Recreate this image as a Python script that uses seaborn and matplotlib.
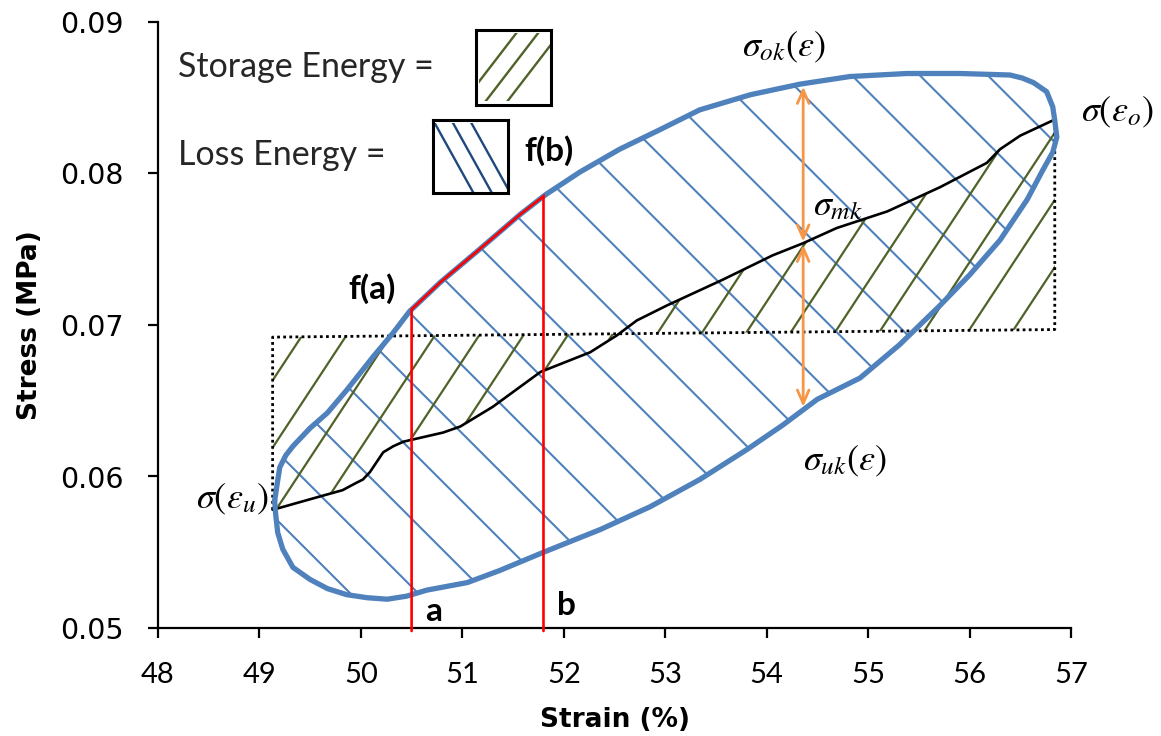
import numpy as np
import pandas as pd
import matplotlib
matplotlib.use("Agg")
import matplotlib.pyplot as plt
from matplotlib.path import Path
import seaborn as sns

# ---- data -------------------------------------------------------------
# loading branch (upper part of the hysteresis loop), strain in %, stress in MPa
upper_strain = [49.15, 49.17, 49.20, 49.26, 49.33, 49.50, 49.67, 49.86, 50.12, 50.32,
                50.48, 50.78, 51.17, 51.57, 51.82, 52.16, 52.55, 52.95, 53.34, 53.84,
                54.33, 54.82, 55.38, 55.91, 56.40, 56.52, 56.63, 56.76, 56.82, 56.84,
                56.86]
upper_stress = [0.0584, 0.0593, 0.0606, 0.0614, 0.0620, 0.0632, 0.0642, 0.0657, 0.0679, 0.0695,
                0.0709, 0.0728, 0.0750, 0.0773, 0.0786, 0.0801, 0.0816, 0.0829, 0.0842, 0.0852,
                0.0859, 0.0864, 0.0866, 0.0866, 0.0865, 0.0863, 0.0860, 0.0854, 0.0844, 0.0835,
                0.0824]
# unloading branch (lower part), running from right to left
lower_strain = [56.82, 56.72, 56.57, 56.30, 56.00, 55.71, 55.31, 54.92, 54.50, 54.16,
                53.81, 53.34, 52.85, 52.36, 51.80, 51.37, 51.05, 50.65, 50.45, 50.26,
                50.06, 49.86, 49.67, 49.50, 49.33, 49.23, 49.18, 49.16]
lower_stress = [0.0814, 0.0802, 0.0783, 0.0756, 0.0733, 0.0713, 0.0687, 0.0665, 0.0651, 0.0634,
                0.0618, 0.0598, 0.0580, 0.0565, 0.0550, 0.0538, 0.0530, 0.0525, 0.0521, 0.0519,
                0.0520, 0.0522, 0.0526, 0.0532, 0.0540, 0.0552, 0.0563, 0.0575]
# mean stress curve sigma_mk
mid_strain = [49.13, 49.50, 49.82, 49.96, 50.02, 50.09, 50.16, 50.22, 50.32, 50.42,
              50.81, 50.98, 51.30, 51.77, 52.26, 52.52, 52.72, 53.02, 53.57, 54.06,
              54.36, 54.69, 55.19, 55.71, 56.17, 56.30, 56.50, 56.82]
mid_stress = [0.0578, 0.0585, 0.0591, 0.0596, 0.0598, 0.0603, 0.0610, 0.0616, 0.0620, 0.0623,
              0.0629, 0.0633, 0.0646, 0.0669, 0.0682, 0.0693, 0.0703, 0.0713, 0.0730, 0.0746,
              0.0754, 0.0764, 0.0775, 0.0791, 0.0807, 0.0816, 0.0825, 0.0835]
# dotted boundary of the storage-energy area
bound_strain = [49.13, 49.13, 56.84, 56.84]
bound_stress = [0.0578, 0.0692, 0.0697, 0.0835]

strain_a, strain_b = 50.50, 51.80        # integration limits a, b
strain_arrow = 54.36                     # where sigma_ok / sigma_uk are marked

x_ticks = [48, 49, 50, 51, 52, 53, 54, 55, 56, 57]
y_ticks = [0.05, 0.06, 0.07, 0.08, 0.09]

# ---- style ------------------------------------------------------------
sns.set_theme(style="ticks")
plt.rcParams["font.family"] = ["Lato", "DejaVu Sans"]
plt.rcParams["mathtext.fontset"] = "stix"

LOOP_BLUE = "#4F81BD"
OLIVE = "#4F6228"
NAVY = "#1F497D"
ORANGE = "#F79646"

W, H = 1161, 736
fig = plt.figure(figsize=(W / 100, H / 100), dpi=100)
ax_rect = [158 / W, 1 - 628 / H, (1071 - 158) / W, (628 - 22) / H]
ax = fig.add_axes(ax_rect)
xlim, ylim = (48, 57), (0.05, 0.09)
ax.set_xlim(*xlim)
ax.set_ylim(*ylim)

# pixel scale of the data axes, used to give hatch lines a fixed on-screen angle
px_x = ax_rect[2] * W / (xlim[1] - xlim[0])
px_y = ax_rect[3] * H / (ylim[1] - ylim[0])


def hatch(axis, clip_xy, x_at_ref, y_ref, spacing, px_slope, color, lw, z,
          sx=px_x, sy=px_y, xr=(40.0, 65.0), ks=range(-30, 31)):
    """Parallel lines clipped to the polygon clip_xy (data coordinates)."""
    slope = px_slope * sx / sy
    clip = Path(np.asarray(clip_xy))
    xs = np.array(xr)
    for k in ks:
        c = x_at_ref + k * spacing
        ln, = axis.plot(xs, y_ref + slope * (xs - c), color=color, lw=lw,
                        zorder=z, solid_capstyle="butt")
        ln.set_clip_path(clip, axis.transData)


# closed loop and storage region polygons
loop_x = upper_strain + lower_strain + [upper_strain[0]]
loop_y = upper_stress + lower_stress + [upper_stress[0]]
storage_xy = list(zip(mid_strain, mid_stress)) + list(zip(bound_strain[::-1], bound_stress[::-1]))

# loss energy hatch inside the loop, storage energy hatch between curve and boundary
hatch(ax, list(zip(loop_x, loop_y)), 50.69, 0.0694, 0.67, -1.0, LOOP_BLUE, 1.5, 2)
hatch(ax, storage_xy, 49.43, 0.0694, 0.436, 1.52, OLIVE, 1.6, 2)

ax.plot(bound_strain, bound_stress, color="black", lw=2.0, ls=(0, (1, 1.2)), zorder=3)

loop_df = pd.DataFrame({"strain": loop_x, "stress": loop_y})
mid_df = pd.DataFrame({"strain": mid_strain, "stress": mid_stress})
sns.lineplot(data=mid_df, x="strain", y="stress", sort=False, estimator=None,
             color="black", lw=1.9, ax=ax, zorder=4)
sns.lineplot(data=loop_df, x="strain", y="stress", sort=False, estimator=None,
             color=LOOP_BLUE, lw=3.8, ax=ax, zorder=5)

# f(a) -> f(b) segment of the loading branch with the two verticals
fa = np.interp(strain_a, upper_strain, upper_stress)
fb = np.interp(strain_b, upper_strain, upper_stress)
seg = [(x, y) for x, y in zip(upper_strain, upper_stress) if strain_a < x < strain_b]
red_x = [strain_a, strain_a] + [p[0] for p in seg] + [strain_b, strain_b]
red_y = [ylim[0] - 0.0002, fa] + [p[1] for p in seg] + [fb, ylim[0] - 0.0002]
ax.plot(red_x, red_y, color="#FF0000", lw=1.9, zorder=6, clip_on=False,
        solid_joinstyle="miter")

# sigma_ok / sigma_mk / sigma_uk arrows
s_ok = np.interp(strain_arrow, upper_strain, upper_stress)
s_mk = np.interp(strain_arrow, mid_strain, mid_stress)
s_uk = np.interp(strain_arrow, lower_strain[::-1], lower_stress[::-1])
arrow = dict(arrowstyle="<->,head_length=0.8,head_width=0.35", color=ORANGE, lw=2.0,
             shrinkA=0, shrinkB=0)
ax.annotate("", xy=(strain_arrow, s_ok - 0.0002), xytext=(strain_arrow, s_mk + 0.0001),
            arrowprops=arrow, zorder=7)
ax.annotate("", xy=(strain_arrow, s_uk + 0.0002), xytext=(strain_arrow, s_mk - 0.0001),
            arrowprops=arrow, zorder=7)

# labels on the chart
math_kw = dict(fontsize=26, color="black", ha="center", va="center", zorder=8)
ax.text(54.17, 0.0883, r"$\sigma_{ok}(\varepsilon)$", **math_kw)
ax.text(57.46, 0.0840, r"$\sigma(\varepsilon_{o})$", clip_on=False, **math_kw)
ax.text(54.70, 0.0779, r"$\sigma_{mk}$", **math_kw)
ax.text(54.77, 0.0610, r"$\sigma_{uk}(\varepsilon)$", **math_kw)
ax.text(48.73, 0.0585, r"$\sigma(\varepsilon_{u})$", **math_kw)

bold_kw = dict(fontsize=24, fontweight="bold", ha="center", va="center", color="black", zorder=8)
ax.text(50.11, 0.0724, "f(a)", **bold_kw)
ax.text(51.85, 0.0815, "f(b)", **bold_kw)
ax.text(50.72, 0.0511, "a", **bold_kw)
ax.text(52.03, 0.0515, "b", **bold_kw)

ax.text(48.20, 0.0870, "Storage Energy =", fontsize=24.5, ha="left", va="center")
ax.text(48.20, 0.0812, "Loss Energy =", fontsize=24.5, ha="left", va="center")


# hatched key boxes
def key_box(rect, px_slope, x_at_mid, spacing, color, inner):
    kax = fig.add_axes(rect)
    kax.set_xlim(0, 1)
    kax.set_ylim(0, 1)
    kax.set_xticks([])
    kax.set_yticks([])
    kax.set_facecolor("white")
    for s in kax.spines.values():
        s.set_visible(True)
        s.set_color("black")
        s.set_linewidth(2.2)
    sx, sy = rect[2] * W, rect[3] * H
    hatch(kax, inner, x_at_mid, 0.5, spacing, px_slope, color, 1.7, 2,
          sx=sx, sy=sy, xr=(-1.0, 2.0), ks=(-1, 0, 1))


key_box([476 / W, 1 - 105 / H, 75 / W, 75 / H], 1.3, 0.475, 0.29, OLIVE,
        [(0.04, 0.06), (0.98, 0.06), (0.98, 0.96), (0.04, 0.96)])
key_box([433 / W, 1 - 193 / H, 75 / W, 73 / H], -1.8, 0.515, 0.245, NAVY,
        [(0.03, 0.02), (0.98, 0.02), (0.98, 0.96), (0.03, 0.96)])

# axes styling
sns.despine(ax=ax)
for side in ("left", "bottom"):
    ax.spines[side].set_color("black")
    ax.spines[side].set_linewidth(1.6)
ax.set_xticks(x_ticks)
ax.set_xticklabels([str(t) for t in x_ticks], fontsize=21)
ax.set_yticks(y_ticks)
ax.set_yticklabels([f"{t:.2f}" for t in y_ticks], fontsize=20.5, family="DejaVu Sans")
ax.tick_params(axis="both", direction="out", length=7.5, width=1.6, color="black",
               labelcolor="black", pad=17)
ax.set_xlabel("Strain (%)", fontsize=19, fontweight="bold", color="black",
              family="DejaVu Sans")
ax.set_ylabel("Stress (MPa)", fontsize=19, fontweight="bold", color="black",
              family="DejaVu Sans")
ax.xaxis.set_label_coords(0.5, -0.13)
ax.yaxis.set_label_coords(-0.126, 0.5)
ax.grid(False)

fig.savefig("out.png", dpi=100, facecolor="white")
